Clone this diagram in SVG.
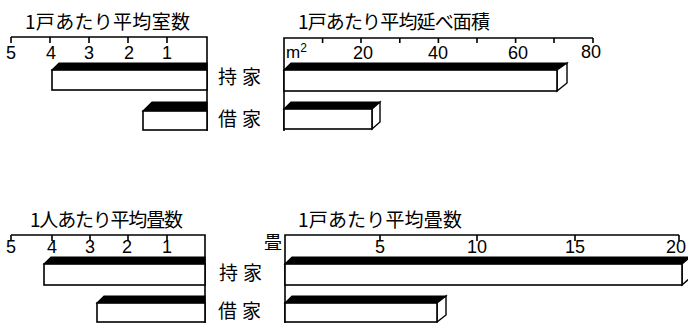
<svg xmlns="http://www.w3.org/2000/svg" width="688" height="323" viewBox="0 0 688 323">
<style>
.ax{stroke:#000;stroke-width:1.6;fill:none}
.front{fill:#fff;stroke:#000;stroke-width:1.6}
.top{fill:#000;stroke:#000;stroke-width:1.2}
.side{fill:#fff;stroke:#000;stroke-width:1.4}
.ttl{font-family:"Noto Sans CJK JP","Noto Sans CJK SC",sans-serif;font-size:19px;fill:#000}
.lbl{font-family:"Noto Sans CJK JP","Noto Sans CJK SC",sans-serif;font-size:19px;fill:#000;letter-spacing:5px}
.num{font-family:"Liberation Sans",Arial,sans-serif;font-size:18px;fill:#000;text-anchor:middle}
</style>
<rect width="688" height="323" fill="#fff"/>

<!-- Chart 1: rooms per dwelling -->
<g id="chart-rooms">
  <text class="ttl" x="25" y="29" textLength="165" lengthAdjust="spacing">1戸あたり平均室数</text>
  <path class="ax" d="M11,37 H207 V131 M11,37 V43 M50,37 V43 M89,37 V43 M128,37 V43 M167,37 V43"/>
  <text class="num" x="11" y="59">5</text>
  <text class="num" x="51" y="59">4</text>
  <text class="num" x="89" y="59">3</text>
  <text class="num" x="129" y="59">2</text>
  <text class="num" x="167" y="59">1</text>
</g>
<g id="bar-rooms-owned">
  <polygon class="top" points="52,70 59,63 207,63 207,70"/>
  <rect class="front" x="52" y="70" width="155" height="20"/>
</g>
<g id="bar-rooms-rented">
  <polygon class="top" points="143,111 152,102 207,102 207,111"/>
  <rect class="front" x="143" y="111" width="64" height="19"/>
</g>

<!-- Labels -->
<g id="label-owned-top"><text class="lbl" x="218" y="84">持家</text></g>
<g id="label-rented-top"><text class="lbl" x="218" y="126">借家</text></g>

<!-- Chart 2: floor area per dwelling -->
<g id="chart-area">
  <text class="ttl" x="298" y="29" textLength="192" lengthAdjust="spacing">1戸あたり平均延べ面積</text>
  <path class="ax" d="M284,131 V38 H593 M322.6,38 V43 M361,38 V43 M399.8,38 V43 M438.4,38 V43 M477,38 V43 M515.6,38 V43 M554,38 V43 M593,38 V43"/>
  <text x="286" y="58" style="font-family:'Liberation Sans',Arial,sans-serif;font-size:17px">m<tspan dy="-6" font-size="12">2</tspan></text>
  <text class="num" x="363" y="59">20</text>
  <text class="num" x="438" y="59">40</text>
  <text class="num" x="518" y="59">60</text>
  <text class="num" x="591" y="58">80</text>
</g>
<g id="bar-area-owned">
  <polygon class="top" points="284,70 291,63 567,63 557,70"/>
  <polygon class="side" points="557,70 567,63 567,83 557,91"/>
  <rect class="front" x="284" y="70" width="273" height="21"/>
</g>
<g id="bar-area-rented">
  <polygon class="top" points="284,109 291,102 380,102 372,109"/>
  <polygon class="side" points="372,109 380,102 380,122 372,129"/>
  <rect class="front" x="284" y="109" width="88" height="20"/>
</g>

<!-- Chart 3: tatami per person -->
<g id="chart-tatami-person">
  <text class="ttl" x="30" y="227" textLength="153" lengthAdjust="spacing">1人あたり平均畳数</text>
  <path class="ax" d="M11,235 H205 V323 M11,235 V241 M52,235 V241 M90,235 V241 M128,235 V241 M167,235 V241"/>
  <text class="num" x="11" y="253">5</text>
  <text class="num" x="52" y="253">4</text>
  <text class="num" x="90" y="253">3</text>
  <text class="num" x="127" y="253">2</text>
  <text class="num" x="167" y="253">1</text>
</g>
<g id="bar-tatami-person-owned">
  <polygon class="top" points="44,264 51,257 205,257 205,264"/>
  <rect class="front" x="44" y="264" width="161" height="21"/>
</g>
<g id="bar-tatami-person-rented">
  <polygon class="top" points="97,303 104,296 205,296 205,303"/>
  <rect class="front" x="97" y="303" width="108" height="19"/>
</g>

<g id="label-owned-bottom"><text class="lbl" x="219" y="280">持家</text></g>
<g id="label-rented-bottom"><text class="lbl" x="218" y="318">借家</text></g>

<!-- Chart 4: tatami per dwelling -->
<g id="chart-tatami-dwelling">
  <text class="ttl" x="298" y="227" textLength="164" lengthAdjust="spacing">1戸あたり平均畳数</text>
  <text x="282" y="249" style="font-family:'Noto Sans CJK JP',sans-serif;font-size:18px;text-anchor:end">畳</text>
  <path class="ax" d="M285,323 V235 H679 M380,235 V241 M477,235 V241 M575,235 V241 M679,235 V241"/>
  <text class="num" x="380" y="253">5</text>
  <text class="num" x="477" y="253">10</text>
  <text class="num" x="575" y="253">15</text>
  <text class="num" x="676" y="253">20</text>
</g>
<g id="bar-tatami-dwelling-owned">
  <polygon class="top" points="285,264 292,257 690,257 682,264"/>
  <polygon class="side" points="682,264 690,257 690,278 682,285"/>
  <rect class="front" x="285" y="264" width="397" height="21"/>
</g>
<g id="bar-tatami-dwelling-rented">
  <polygon class="top" points="285,303 292,296 446,296 437,303"/>
  <polygon class="side" points="437,303 446,296 446,315 437,322"/>
  <rect class="front" x="285" y="303" width="152" height="19"/>
</g>
</svg>
